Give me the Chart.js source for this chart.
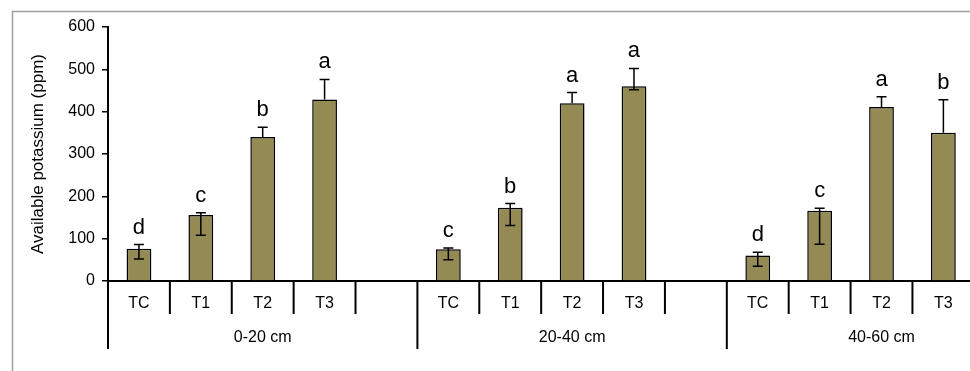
<!DOCTYPE html>
<html>
<head>
<meta charset="utf-8">
<script src="https://cdn.jsdelivr.net/npm/chart.js@4"></script>
<style>
  html, body { margin: 0; padding: 0; background: #fff; overflow: hidden; }
  #wrap { width: 970px; height: 371px; }
</style>
</head>
<body>
<div id="wrap"><canvas id="potassiumChart" width="970" height="371"></canvas></div>
<script>
const depths = ['0-20 cm', '20-40 cm', '40-60 cm'];
const treatments = ['TC', 'T1', 'T2', 'T3'];
const yTicks = [0, 100, 200, 300, 400, 500, 600];

// mean available K per depth, in treatment order
const means = [
    [76, 156, 340, 429],
    [75, 173, 420, 460],
    [60, 166, 411, 350]
];
// error bar ends
const errLow = [
    [52, 108, 340, 429],
    [50, 131, 420, 452],
    [35, 87, 411, 350]
];
const errHigh = [
    [86, 161, 363, 476],
    [78, 183, 445, 502],
    [68, 172, 435, 428]
];
const letters = [
    ['d', 'c', 'b', 'a'],
    ['c', 'b', 'a', 'a'],
    ['d', 'c', 'a', 'b']
];

const SLOTS = 5; // 4 treatments + one empty slot per depth
const FONT = "'Liberation Sans', Arial, sans-serif";

const points = [];
depths.forEach((d, g) => {
    treatments.forEach((t, i) => {
        points.push({ x: g * SLOTS + i, y: means[g][i], g: g, i: i });
    });
});

const decorPlugin = {
    id: 'decor',
    beforeDraw(chart) {
        const ctx = chart.ctx;
        ctx.save();
        ctx.strokeStyle = '#a0a0a0';
        ctx.lineWidth = 1.5;
        ctx.beginPath();
        ctx.moveTo(12.5, 371);
        ctx.lineTo(12.5, 11.5);
        ctx.lineTo(970, 11.5);
        ctx.stroke();
        ctx.restore();
    },
    beforeDatasetsDraw(chart) {
        // soft shadow behind the bars, like the Excel original
        const ctx = chart.ctx;
        ctx.save();
        ctx.shadowColor = 'rgba(0,0,0,0.22)';
        ctx.shadowBlur = 3;
        ctx.shadowOffsetX = 2;
        ctx.shadowOffsetY = 1;
    },
    afterDatasetsDraw(chart) {
        const ctx = chart.ctx;
        ctx.restore();
        const xs = chart.scales.x;
        const ys = chart.scales.y;
        const area = chart.chartArea;
        ctx.save();

        // error bars and letters
        ctx.strokeStyle = '#000';
        ctx.lineWidth = 1.5;
        ctx.fillStyle = '#000';
        ctx.font = '22px ' + FONT;
        ctx.textAlign = 'center';
        ctx.textBaseline = 'alphabetic';
        points.forEach(p => {
            const cx = xs.getPixelForValue(p.x);
            const lo = ys.getPixelForValue(errLow[p.g][p.i]);
            const hi = ys.getPixelForValue(errHigh[p.g][p.i]);
            ctx.beginPath();
            ctx.moveTo(cx, lo);
            ctx.lineTo(cx, hi);
            ctx.moveTo(cx - 5, hi);
            ctx.lineTo(cx + 5, hi);
            if (errLow[p.g][p.i] < p.y) {
                ctx.moveTo(cx - 5, lo);
                ctx.lineTo(cx + 5, lo);
            }
            ctx.stroke();
            ctx.fillText(letters[p.g][p.i], cx, hi - 11);
        });

        // category axis: treatment labels, separators, depth labels
        const base = area.bottom;
        ctx.lineWidth = 2;
        ctx.font = '16px ' + FONT;
        ctx.textBaseline = 'middle';
        ctx.beginPath();
        ctx.moveTo(area.left, base);
        ctx.lineTo(area.left, base + 68);
        for (let s = 0; s < depths.length * SLOTS; s++) {
            const bx = xs.getPixelForValue(s + 0.5);
            const long = (s % SLOTS) === SLOTS - 1;
            ctx.moveTo(bx, base);
            ctx.lineTo(bx, base + (long ? 68 : 33));
        }
        ctx.stroke();
        depths.forEach((d, g) => {
            treatments.forEach((t, i) => {
                ctx.fillText(t, xs.getPixelForValue(g * SLOTS + i), base + 23);
            });
            ctx.fillText(d, xs.getPixelForValue(g * SLOTS + 2), base + 57);
        });
        ctx.restore();
    }
};

new Chart(document.getElementById('potassiumChart').getContext('2d'), {
    type: 'bar',
    data: {
        datasets: [{
            data: points,
            backgroundColor: '#948a54',
            borderColor: '#000',
            borderWidth: 1.5,
            categoryPercentage: 1,
            barPercentage: 0.4
        }]
    },
    options: {
        responsive: false,
        animation: false,
        layout: { padding: { top: 27, right: 0, bottom: 0, left: 0 } },
        plugins: { legend: { display: false }, tooltip: { enabled: false } },
        scales: {
            x: {
                type: 'linear',
                offset: false,
                min: -0.5,
                max: 13.43,
                ticks: { display: false },
                grid: { display: false, offset: false },
                border: { display: true, color: '#000', width: 2 },
                afterFit: s => { s.height = 90; }
            },
            y: {
                min: 0,
                max: 600,
                afterBuildTicks: s => { s.ticks = yTicks.map(v => ({ value: v })); },
                ticks: { color: '#000', padding: 7, font: { family: FONT, size: 16 } },
                grid: { drawOnChartArea: false, drawTicks: true, tickLength: 6, color: '#000', lineWidth: 1.5 },
                border: { display: true, color: '#000', width: 2 },
                title: {
                    display: true,
                    text: 'Available potassium (ppm)',
                    color: '#000',
                    font: { family: FONT, size: 17 },
                    padding: { top: 28, bottom: 0 }
                },
                afterFit: s => { s.width = 108; }
            }
        }
    },
    plugins: [decorPlugin]
});
</script>
</body>
</html>
